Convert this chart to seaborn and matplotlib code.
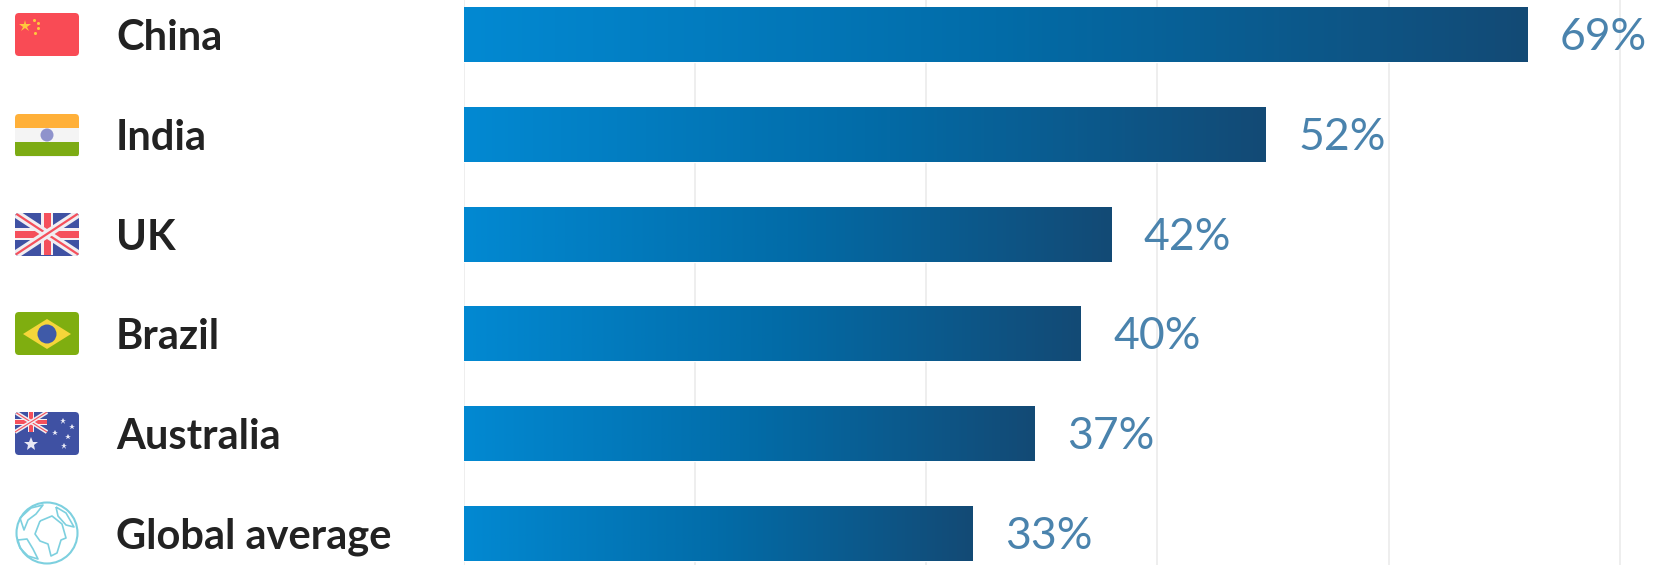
import numpy as np
import pandas as pd
import matplotlib
matplotlib.use("Agg")
import matplotlib.pyplot as plt
from matplotlib.colors import LinearSegmentedColormap
from matplotlib.patches import Circle, FancyBboxPatch, Polygon, Rectangle
from matplotlib.path import Path
from matplotlib.patches import PathPatch
import seaborn as sns

countries = ["China", "India", "UK", "Brazil", "Australia", "Global average"]
shares = [69, 52, 42, 40, 37, 33]
grid_ticks = [0, 15, 30, 45, 60, 75]

W, H = 1655, 565
sns.set_theme(style="white")
plt.rcParams["font.family"] = ["Lato", "DejaVu Sans"]

fig = plt.figure(figsize=(W / 100, H / 100), dpi=100, facecolor="white")
ax = fig.add_axes([464 / W, 0, (W - 464) / W, 1])

df = pd.DataFrame({"country": countries, "share": shares})
sns.barplot(data=df, x="share", y="country", color="#0288d1", width=0.55,
            saturation=1, ax=ax, zorder=3)

x_max = (W - 464) / 15.41
ax.set_xlim(0, x_max)
ax.set_ylim(5.316, -0.346)
ax.set_xlabel("")
ax.set_ylabel("")
ax.set_xticks(grid_ticks)
ax.set_xticklabels([])
ax.tick_params(axis="x", length=0)
ax.grid(axis="x", color="#eeeeee", linewidth=1.4, zorder=0)
ax.set_axisbelow(True)
for side in ax.spines.values():
    side.set_visible(False)

# Country names sit left-aligned in the margin
ax.tick_params(axis="y", length=0, pad=250.5)
for label in ax.get_yticklabels():
    label.set_ha("left")
    label.set_fontsize(30)
    label.set_fontweight("bold")
    label.set_color("#222222")

# Each bar carries its own left-to-right gradient
ramp = LinearSegmentedColormap.from_list("bar_ramp", ["#0289d2", "#026ca8", "#134a75"])
gradient = np.linspace(0, 1, 256).reshape(1, -1)
for bar, value in zip(ax.patches, shares):
    y0, h = bar.get_y(), bar.get_height()
    image = ax.imshow(gradient, cmap=ramp, aspect="auto", zorder=4,
                      extent=(bar.get_x(), bar.get_x() + bar.get_width(), y0 + h, y0))
    image.set_clip_path(bar)
    ax.text(value + 2.12, y0 + h / 2 + 0.03, f"{value}%", va="center", ha="left",
            fontsize=32, color="#4a83ad", zorder=5)
ax.set_xlim(0, x_max)
ax.set_ylim(5.316, -0.346)

# Icon layer in pixel coordinates
icons = fig.add_axes([0, 0, 1, 1], facecolor="none")
icons.set_xlim(0, W)
icons.set_ylim(H, 0)
icons.axis("off")


def flag_base(top, color):
    box = FancyBboxPatch((15, top), 64, 43, boxstyle="round,pad=0,rounding_size=4",
                         fc=color, ec="none", transform=icons.transData)
    icons.add_patch(box)
    return box


def add(patch, clip):
    icons.add_patch(patch)
    patch.set_clip_path(clip)
    return patch


def union_jack(clip, x0, y0, w, h, scale=1.0):
    blue, red = "#3f51a3", "#f5505c"
    add(Rectangle((x0, y0), w, h, fc=blue, ec="none"), clip)
    for a, b in (((x0, y0), (x0 + w, y0 + h)), ((x0, y0 + h), (x0 + w, y0))):
        line, = icons.plot(*zip(a, b), color="#f0eef2", lw=6 * scale, solid_capstyle="butt")
        line.set_clip_path(clip)
        line, = icons.plot(*zip(a, b), color=red, lw=1.6 * scale, solid_capstyle="butt")
        line.set_clip_path(clip)
    add(Rectangle((x0, y0 + h / 2 - 6 * scale), w, 12 * scale, fc="#f6f0f2", ec="none"), clip)
    add(Rectangle((x0 + w / 2 - 6 * scale, y0), 12 * scale, h, fc="#f6f0f2", ec="none"), clip)
    add(Rectangle((x0, y0 + h / 2 - 3.5 * scale), w, 7 * scale, fc=red, ec="none"), clip)
    add(Rectangle((x0 + w / 2 - 3.5 * scale, y0), 7 * scale, h, fc=red, ec="none"), clip)


# China
clip = flag_base(13, "#f94b55")
icons.plot(25, 25.5, marker="*", ms=9, color="#ffc83d", mew=0)
for px, py in ((34, 20), (38, 23), (38, 28), (35, 33)):
    icons.plot(px, py, marker="o", ms=2.2, color="#ffc83d", mew=0)

# India
clip = flag_base(114, "#f4f4f4")
add(Rectangle((15, 114), 64, 13.5, fc="#ffb039", ec="none"), clip)
add(Rectangle((15, 142), 64, 14, fc="#7cab14", ec="none"), clip)
icons.add_patch(Circle((47, 135), 6.5, fc="#8f93cc", ec="none"))

# UK
clip = flag_base(213, "#3f51a3")
union_jack(clip, 15, 213, 64, 42)

# Brazil
clip = flag_base(312, "#7fae10")
icons.add_patch(Polygon([(23, 334), (47, 319), (71, 334), (47, 349)], fc="#f5d63a", ec="none"))
icons.add_patch(Circle((47, 334), 9.5, fc="#3f5aa8", ec="none"))

# Australia
clip = flag_base(412, "#3f51a3")
union_jack(clip, 15, 412, 32, 20, scale=0.5)
icons.plot(31, 444, marker="*", ms=10, color="#e9e9f5", mew=0)
for px, py, size in ((63, 421, 5), (72, 427, 4), (55, 433, 4), (68, 437, 4), (64, 446, 5)):
    icons.plot(px, py, marker="*", ms=size, color="#e9e9f5", mew=0)

# Globe outline with loose continent shapes
globe = "#7dd0df"
icons.add_patch(Circle((47, 533), 30.5, fc="white", ec=globe, lw=1.5))
continents = [
    [(40, 521), (52, 516), (62, 524), (66, 538), (61, 540), (57, 553), (51, 556), (48, 544), (40, 541), (35, 534), (40, 521)],
    [(20, 518), (31, 508), (43, 505), (36, 514), (28, 520), (24, 530), (20, 518)],
    [(18, 540), (27, 539), (33, 549), (38, 559), (28, 556), (20, 548), (18, 540)],
    [(56, 507), (66, 513), (74, 527), (66, 525), (58, 516), (56, 507)],
]
for shape in continents:
    codes = [Path.MOVETO] + [Path.LINETO] * (len(shape) - 1)
    icons.add_patch(PathPatch(Path(shape, codes), fc="none", ec=globe, lw=1.2, joinstyle="round"))

fig.savefig("out.png", dpi=100, facecolor="white")
